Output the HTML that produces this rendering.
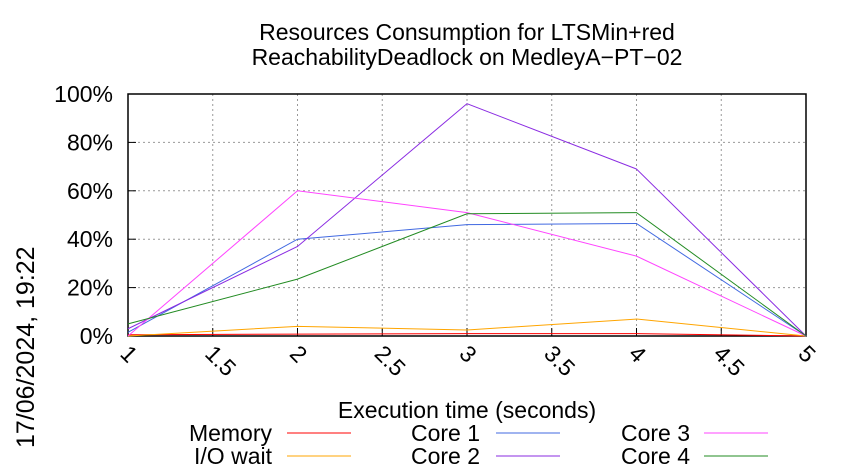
<!DOCTYPE html>
<html><head><meta charset="utf-8"><style>
body{margin:0;background:#fff}
svg{display:block;font-family:"Liberation Sans",sans-serif}
</style></head><body>
<svg width="850" height="475">
<text x="467" y="40" text-anchor="middle" font-size="23">Resources Consumption for LTSMin+red</text>
<text x="467" y="65" text-anchor="middle" font-size="23">ReachabilityDeadlock on MedleyA−PT−02</text>
<g id="grid"></g>
<g id="axes"></g>
<g id="series"></g>
<text x="467" y="418" text-anchor="middle" font-size="23">Execution time (seconds)</text>
<text transform="translate(34,448) rotate(-90)" font-size="25">17/06/2024, 19:22</text>
<g id="legend"></g>
</svg>
<script>
const xTicks=[1,1.5,2,2.5,3,3.5,4,4.5,5];
const xTickLabels=["1","1.5","2","2.5","3","3.5","4","4.5","5"];
const yTicks=[0,20,40,60,80,100];
const yTickLabels=["0%","20%","40%","60%","80%","100%"];
const times=[1,2,3,4,5];
const memory=[0.5,0.8,1,1,0];
const ioWait=[0,4,2.5,7,0];
const core1=[1.5,40,46,46.5,0];
const core2=[3,37,96,69,0];
const core3=[0,60,51,33,0];
const core4=[5,23.5,50.5,51,0];
const seriesNames=["Memory","I/O wait","Core 1","Core 2","Core 3","Core 4"];
const seriesData=[memory,ioWait,core1,core2,core3,core4];
const colors=["#ff0000","#ffa500","#4169e1","#8a2be2","#ff44ff","#228b22"];
const X0=128,X1=806,Y0=336,Y1=94;
const sx=v=>X0+(v-1)/(5-1)*(X1-X0);
const sy=v=>Y0-v/100*(Y0-Y1);
const NS="http://www.w3.org/2000/svg";
function mk(tag,attrs,parent){const e=document.createElementNS(NS,tag);for(const k in attrs)e.setAttribute(k,attrs[k]);parent.appendChild(e);return e;}
const grid=document.getElementById('grid'),axes=document.getElementById('axes'),ser=document.getElementById('series'),leg=document.getElementById('legend');
yTicks.forEach((t,i)=>{
 const l=mk('line',{x1:X0,x2:X1,y1:sy(t),y2:sy(t),stroke:'#999','stroke-dasharray':'2,3','stroke-width':1},grid);
 
 
 const tk=mk('line',{x1:X0,x2:X0+8,y1:sy(t),y2:sy(t),stroke:'#000'},axes);
 
 
 const tx=mk('text',{x:X0-15,y:sy(t)+8,'text-anchor':'end','font-size':23},axes);
 tx.textContent=yTickLabels[i];
 
 
});
xTicks.forEach((t,i)=>{
 const l=mk('line',{x1:sx(t),x2:sx(t),y1:Y0,y2:Y1,stroke:'#999','stroke-dasharray':'2,3','stroke-width':1},grid);
 
 
 const tk=mk('line',{x1:sx(t),x2:sx(t),y1:Y0,y2:Y0-8,stroke:'#000'},axes);
 
 
 const tx=mk('text',{transform:`translate(${sx(t)-9},${Y0+19}) rotate(45)`,'font-size':23},axes);
 tx.textContent=xTickLabels[i];
 
 
});
const frame=mk('rect',{x:X0,y:Y1,width:X1-X0,height:Y0-Y1,fill:'none',stroke:'#000','stroke-width':1.5},axes);


seriesData.forEach((d,i)=>{
 const p=mk('polyline',{points:d.map((v,j)=>sx(times[j])+','+sy(v)).join(' '),fill:'none',stroke:colors[i],'stroke-width':1},ser);
 
 
});
const legTextX=[272,480,690],legLineX=[287,496,704],legY=[441,464];
seriesNames.forEach((n,i)=>{
 const c=Math.floor(i/2),r=i%2;
 const t=mk('text',{x:legTextX[c],y:legY[r],'text-anchor':'end','font-size':23},leg);
 t.textContent=n;
 
 
 const l=mk('line',{x1:legLineX[c],x2:legLineX[c]+64,y1:legY[r]-8,y2:legY[r]-8,stroke:colors[i],'stroke-width':1},leg);
 
 
});
</script>
</body></html>
